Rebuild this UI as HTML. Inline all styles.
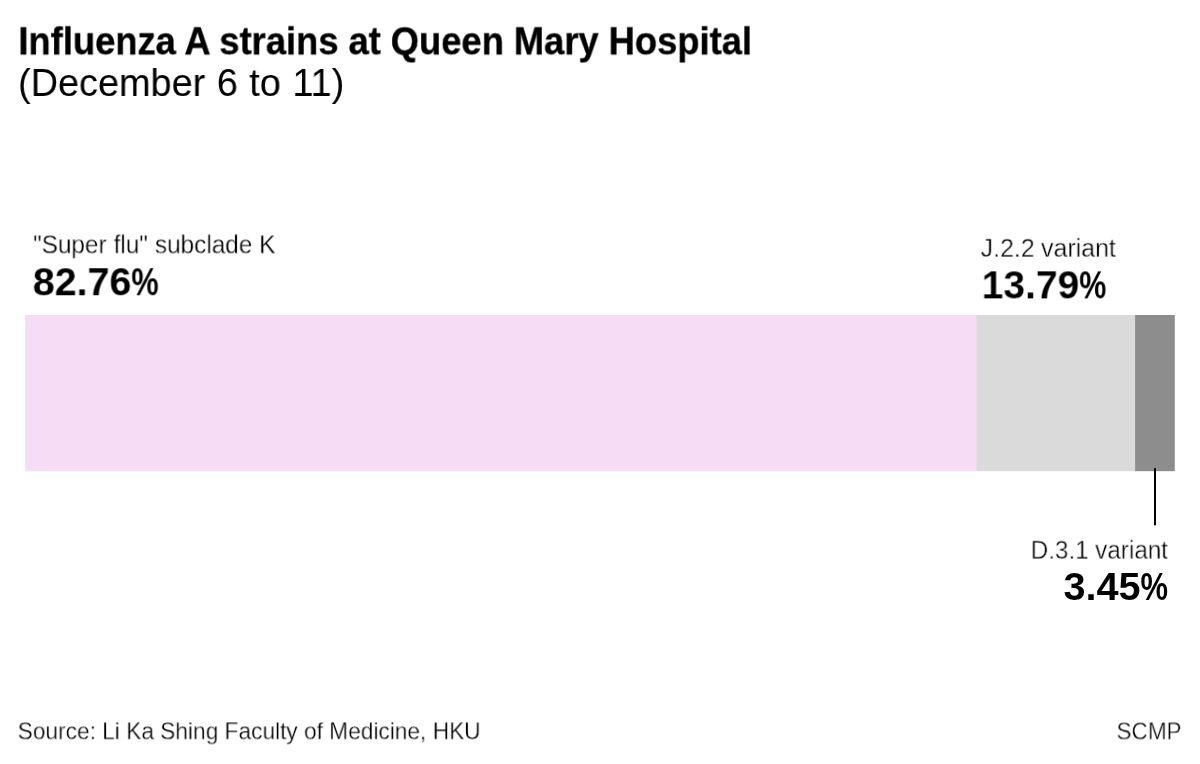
<!DOCTYPE html>
<html lang="en"><head><meta charset="utf-8"><title>Influenza A strains at Queen Mary Hospital</title>
<style>
html,body{margin:0;padding:0;background:#fff;overflow:hidden;}
body{width:1200px;height:764px;position:relative;overflow:hidden;font-family:"Liberation Sans", sans-serif;color:#000;}
.t{position:absolute;white-space:nowrap;line-height:1;margin:0;font-weight:400;will-change:transform;}
.b{font-weight:700;}
.pc{display:inline-block;transform-origin:left center;}
.chart{position:absolute;left:0;top:0;width:1200px;height:764px;display:block;}
#title{left:18px;top:22px;font-size:38.8px;word-spacing:-0.125px;transform:translate3d(0.35px,0.35px,0) scaleX(0.9366);transform-origin:left top;-webkit-text-stroke:0.33px #000;}
#sub{left:18px;top:64px;font-size:38.8px;word-spacing:1px;transform:translate3d(0px,0px,0) scaleX(0.9758);transform-origin:left top;-webkit-text-stroke:0.06px #000;}
#lab1{left:33px;top:232px;font-size:25.9px;word-spacing:0.25px;transform:translate3d(0px,0.35px,0) scaleX(0.9396);transform-origin:left top;-webkit-text-stroke:0.3px #fff;}
#val1{left:32px;top:262px;font-size:39.6px;transform:translate3d(0.8px,0.25px,0) scaleX(0.9954);transform-origin:left top;}
#lab2{left:980px;top:235px;font-size:25.9px;word-spacing:-0.5px;transform:translate3d(0.6px,0.8px,0) scaleX(0.9626);transform-origin:left top;-webkit-text-stroke:0.35px #fff;}
#val2{left:981px;top:265px;font-size:39.6px;transform:translate3d(0.7px,0.35px,0) scaleX(0.9852);transform-origin:left top;-webkit-text-stroke:0.1px #fff;}
#lab3{right:32px;top:537px;font-size:25.8px;word-spacing:-0.25px;transform:translate3d(0px,0.7px,0) scaleX(0.9407);transform-origin:right top;-webkit-text-stroke:0.38px #fff;}
#val3{right:33px;top:567px;font-size:39.6px;transform:translate3d(0.65px,0.45px,0) scaleX(1.0025);transform-origin:right top;-webkit-text-stroke:0.05px #fff;}
#src{left:17px;top:719px;font-size:23.9px;transform:translate3d(0.65px,0.3px,0) scaleX(0.9499);transform-origin:left top;-webkit-text-stroke:0.3px #fff;}
#scmp{right:19px;top:719px;font-size:24.4px;transform:translate3d(0px,0.4px,0) scaleX(0.9216);transform-origin:right top;-webkit-text-stroke:0.37px #fff;}
</style></head><body>
<header>
<h1 class="t b" id="title">Influenza A strains at Queen Mary Hospital</h1>
<p class="t" id="sub">(December 6 to 11)</p>
</header>
<main>
<svg class="chart" width="1200" height="764" viewBox="0 0 1200 764" role="img" aria-label="Stacked bar">
<rect x="25.2" y="315" width="951.8" height="156.2" fill="#f6dcf4"/>
<rect x="976.5" y="315" width="159.1" height="156.2" fill="#dadada"/>
<rect x="1135.1" y="315" width="39.7" height="156.2" fill="#8d8d8d"/>
<rect x="1154" y="468.2" width="2" height="57.1" fill="#000"/>
</svg>
<div class="t" id="lab1">&quot;Super flu&quot; subclade K</div>
<div class="t b" id="val1">82.76<span class="pc" style="transform:scaleX(0.78);margin-right:-0.196em;-webkit-text-stroke:0px #000">%</span></div>
<div class="t" id="lab2">J.2.2 variant</div>
<div class="t b" id="val2">13.79<span class="pc" style="transform:scaleX(0.78);margin-right:-0.196em;-webkit-text-stroke:0px #000">%</span></div>
<div class="t" id="lab3">D.3.1 variant</div>
<div class="t b" id="val3">3.45<span class="pc" style="transform:scaleX(0.78);margin-right:-0.196em;-webkit-text-stroke:0px #000">%</span></div>
</main>
<footer>
<div class="t" id="src">Source: Li Ka Shing Faculty of Medicine, HKU</div>
<div class="t" id="scmp">SCMP</div>
</footer>
</body></html>
